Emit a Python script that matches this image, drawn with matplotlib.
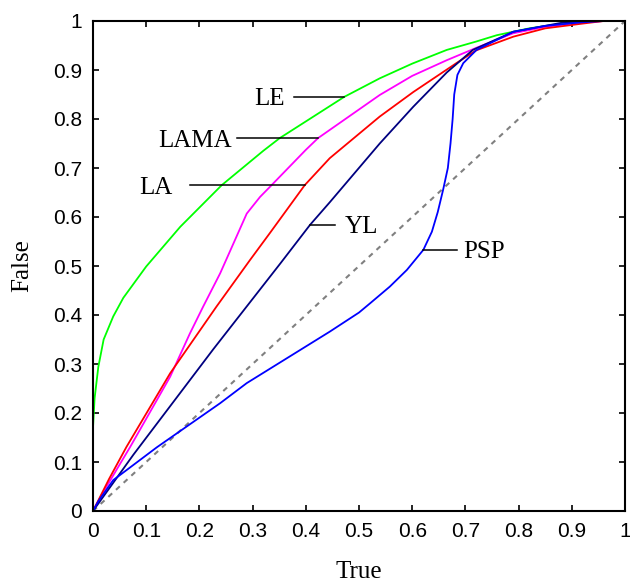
import matplotlib
matplotlib.use("Agg")
import matplotlib.pyplot as plt

# ---- data ----
le_x = [0, 0, 0.003, 0.01, 0.02, 0.038, 0.057, 0.1, 0.164, 0.242, 0.32, 0.351, 0.40, 0.472, 0.539, 0.6, 0.665, 0.72, 0.759, 0.82, 0.884, 0.95, 1.0]
le_y = [0, 0.17, 0.23, 0.294, 0.35, 0.397, 0.435, 0.499, 0.58, 0.665, 0.735, 0.761, 0.795, 0.845, 0.883, 0.913, 0.941, 0.958, 0.971, 0.985, 0.995, 1.0, 1.0]

lama_x = [0, 0.02, 0.07, 0.145, 0.182, 0.207, 0.239, 0.264, 0.289, 0.314, 0.333, 0.40, 0.423, 0.539, 0.6, 0.665, 0.72, 0.79, 0.85, 0.915, 0.96, 1.0]
lama_y = [0, 0.04, 0.131, 0.274, 0.362, 0.417, 0.485, 0.546, 0.607, 0.641, 0.662, 0.737, 0.761, 0.849, 0.888, 0.920, 0.945, 0.975, 0.988, 0.997, 1.0, 1.0]

la_x = [0, 0.03, 0.063, 0.145, 0.232, 0.295, 0.333, 0.398, 0.445, 0.539, 0.602, 0.683, 0.72, 0.79, 0.85, 0.915, 0.96, 1.0]
la_y = [0, 0.065, 0.131, 0.281, 0.417, 0.512, 0.568, 0.665, 0.72, 0.805, 0.855, 0.914, 0.94, 0.968, 0.985, 0.994, 1.0, 1.0]

yl_x = [0, 0.076, 0.226, 0.352, 0.408, 0.445, 0.539, 0.602, 0.665, 0.714, 0.79, 0.884, 0.93, 1.0]
yl_y = [0, 0.115, 0.33, 0.505, 0.584, 0.63, 0.750, 0.825, 0.895, 0.941, 0.978, 0.997, 1.0, 1.0]

psp_x = [0, 0.01, 0.038, 0.12, 0.239, 0.289, 0.445, 0.5, 0.521, 0.558, 0.59, 0.621, 0.637, 0.648, 0.658, 0.667, 0.672, 0.676, 0.679, 0.685, 0.696, 0.721, 0.79, 0.85, 0.915, 0.96, 1.0]
psp_y = [0, 0.02, 0.063, 0.13, 0.22, 0.261, 0.366, 0.405, 0.424, 0.458, 0.492, 0.533, 0.57, 0.61, 0.655, 0.70, 0.75, 0.80, 0.85, 0.89, 0.914, 0.941, 0.978, 0.99, 0.997, 1.0, 1.0]

diag = [0, 1]

tick_vals = [0, 0.1, 0.2, 0.3, 0.4, 0.5, 0.6, 0.7, 0.8, 0.9, 1]
tick_labels = ["0", "0.1", "0.2", "0.3", "0.4", "0.5", "0.6", "0.7", "0.8", "0.9", "1"]

# label name, leader line x-range, y, text x, alignment
labels = [
    ("LE",   0.378, 0.472, 0.845, 0.361, "right"),
    ("LAMA", 0.271, 0.423, 0.761, 0.261, "right"),
    ("LA",   0.182, 0.398, 0.665, 0.150, "right"),
    ("YL",   0.408, 0.455, 0.584, 0.474, "left"),
    ("PSP",  0.621, 0.684, 0.533, 0.695, "left"),
]

fig = plt.figure(figsize=(6.3, 5.84), dpi=100)
ax = fig.add_axes([93/630, (584-511)/584, (625-93)/630, (511-21)/584])

lw = 1.3
ax.plot(diag, diag, color="#808080", lw=1.5, ls=(0, (2.5, 2.5)))
ax.plot(le_x, le_y, color="#00ff00", lw=lw)
ax.plot(lama_x, lama_y, color="#ff00ff", lw=lw)
ax.plot(la_x, la_y, color="#ff0000", lw=lw)
ax.plot(yl_x, yl_y, color="#000080", lw=lw)
ax.plot(psp_x, psp_y, color="#0000ff", lw=lw)

for name, x0, x1, y, tx, ha in labels:
    ax.plot([x0, x1], [y, y], color="black", lw=1.1)
    ax.text(tx, y, name, ha=ha, va="center_baseline", fontsize=18,
            family="Liberation Serif")

ax.set_xlim(0, 1)
ax.set_ylim(0, 1)
ax.set_xticks(tick_vals)
ax.set_xticklabels(tick_labels)
ax.set_yticks(tick_vals)
ax.set_yticklabels(tick_labels)
ax.tick_params(direction="in", top=True, right=True, length=4, width=1.2,
               labelsize=15, pad=8)
for lab in ax.get_xticklabels() + ax.get_yticklabels():
    lab.set_family("Liberation Sans")
for s in ax.spines.values():
    s.set_linewidth(1.5)

ax.set_xlabel("True", fontsize=18, family="Liberation Serif", labelpad=14)
ax.set_ylabel("False", fontsize=18, family="Liberation Serif", labelpad=14)

fig.savefig("out.png", dpi=100)
